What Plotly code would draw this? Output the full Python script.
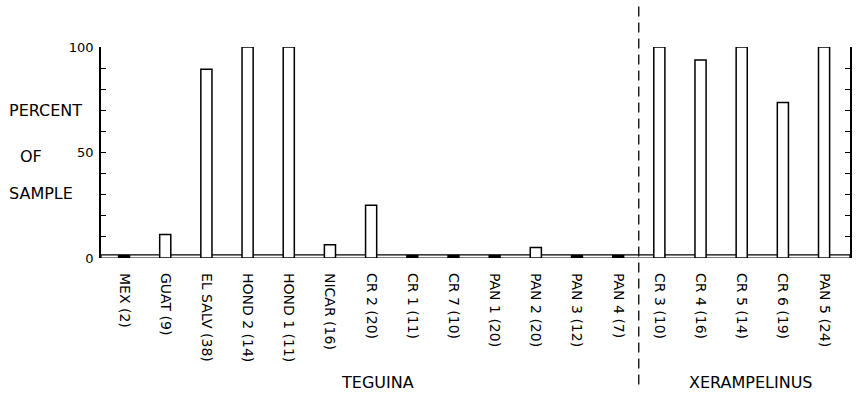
import plotly.graph_objects as go

categories = ["MEX (2)", "GUAT (9)", "EL SALV (38)", "HOND 2 (14)", "HOND 1 (11)",
              "NICAR (16)", "CR 2 (20)", "CR 1 (11)", "CR 7 (10)", "PAN 1 (20)",
              "PAN 2 (20)", "PAN 3 (12)", "PAN 4 (7)", "CR 3 (10)", "CR 4 (16)",
              "CR 5 (14)", "CR 6 (19)", "PAN 5 (24)"]
percent = [0, 11.1, 89.5, 100, 100, 6.3, 25, 0, 0, 0, 5, 0, 0, 100, 93.8, 100, 73.7, 100]
y_tick_vals = [0, 10, 20, 30, 40, 50, 60, 70, 80, 90, 100]
y_tick_text = ["0", "", "", "", "", "50", "", "", "", "", "100"]
groups = ["TEGUINA", "XERAMPELINUS"]

FONT = "DejaVu Sans"
BAND = 1.5  # height of the baseline band in percent units
n = len(categories)
xr = [-0.56, n - 1 + 0.63]

fig = go.Figure()
fig.add_trace(go.Bar(
    x=categories, y=percent, width=0.27,
    marker=dict(color="white", line=dict(color="black", width=1.5)),
    showlegend=False,
))
# zero values shown as filled black segments inside the baseline band
fig.add_trace(go.Bar(
    x=categories, y=[BAND if v == 0 else None for v in percent], width=0.3,
    marker=dict(color="black", line=dict(width=0)),
    showlegend=False,
))

# baseline double line
fig.add_shape(type="rect", xref="x", yref="y", x0=xr[0], x1=xr[1], y0=0, y1=BAND,
              line=dict(color="black", width=1.2), fillcolor="rgba(0,0,0,0)", layer="below")
# dashed group separator
fig.add_shape(type="line", xref="x", yref="paper", x0=12.5, x1=12.5, y0=-0.6, y1=1.2,
              line=dict(color="black", width=1.3, dash="10px,6px"))

fig.update_layout(
    width=857, height=396,
    margin=dict(l=101, r=5, t=47, b=138),
    paper_bgcolor="white", plot_bgcolor="white",
    barmode="overlay",
    font=dict(family=FONT, color="black", size=12),
    xaxis=dict(range=xr, showgrid=False, zeroline=False, showline=False,
               ticks="", tickangle=90, ticklabelstandoff=14,
               tickfont=dict(family=FONT, size=14, color="black")),
    yaxis=dict(range=[0, 100], showgrid=False, zeroline=False, showline=True,
               linecolor="black", linewidth=1.5, mirror="ticks",
               ticks="inside", ticklen=5, tickwidth=1.3, tickcolor="black",
               tickvals=y_tick_vals, ticktext=y_tick_text, ticklabelstandoff=3,
               tickfont=dict(family=FONT, size=13, color="black")),
)

ann_font = dict(family=FONT, size=16, color="black")
for text, x, y in [("PERCENT", -0.0746, 0.701), ("OF", -0.093, 0.479), ("SAMPLE", -0.080, 0.308)]:
    fig.add_annotation(text=text, xref="paper", yref="paper", x=x, y=y,
                       showarrow=False, font=ann_font, xanchor="center", yanchor="middle")
for text, x in zip(groups, [0.369, 0.868]):
    fig.add_annotation(text=text, xref="paper", yref="paper", x=x, y=-0.592,
                       showarrow=False, font=ann_font, xanchor="center", yanchor="middle")

fig.write_html("out.html")
